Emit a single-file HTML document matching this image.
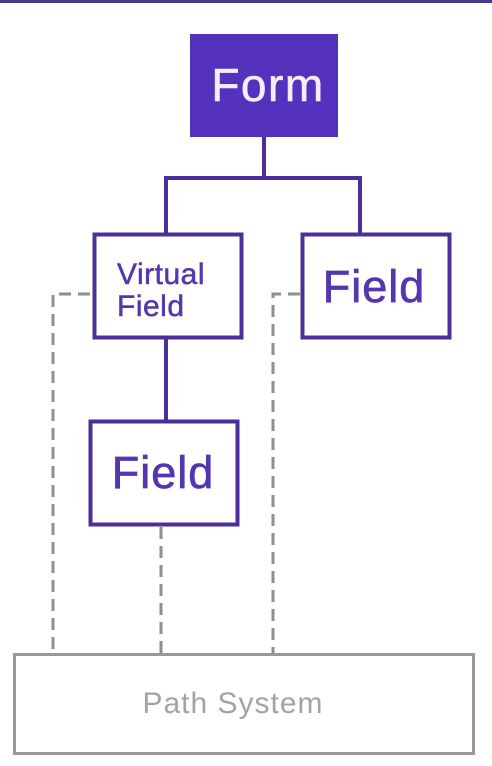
<!DOCTYPE html>
<html><head><meta charset="utf-8"><style>
html,body{margin:0;padding:0;background:#fff;width:492px;height:766px;overflow:hidden}
svg{display:block}
text{font-family:"Liberation Sans",sans-serif}
</style></head><body>
<svg width="492" height="766" viewBox="0 0 492 766" xmlns="http://www.w3.org/2000/svg">
<rect x="0" y="0" width="492" height="3" fill="#4a3a8a"/>
<g stroke="#8f8f8f" stroke-width="3" fill="none" stroke-dasharray="12,7">
<path d="M90 294 H53 V655"/>
<path d="M300 294 H273 V655"/>
<path d="M161 527 V655"/>
</g>
<g stroke="#4b2e99" stroke-width="4" fill="none">
<path d="M264 137 V178"/>
<path d="M166 233 V178 H360 V233"/>
<path d="M166 338 V421"/>
</g>
<rect x="190" y="34" width="148" height="103" fill="#5532bd"/>
<text x="268" y="101" text-anchor="middle" font-size="46" letter-spacing="1.5" fill="#f4eefc" stroke="#f4eefc" stroke-width="0.6">Form</text>
<rect x="94.5" y="234.5" width="147" height="103" fill="#fff" stroke="#4b2e99" stroke-width="4"/>
<text x="117" y="284" font-size="30" letter-spacing="0.5" fill="#5536b0" stroke="#5536b0" stroke-width="0.5">Virtual</text>
<text x="117" y="316" font-size="30" letter-spacing="0.5" fill="#5536b0" stroke="#5536b0" stroke-width="0.5">Field</text>
<rect x="302.5" y="234.5" width="147" height="103" fill="#fff" stroke="#4b2e99" stroke-width="4"/>
<text x="374" y="302" text-anchor="middle" font-size="45" letter-spacing="1" fill="#5536b0" stroke="#5536b0" stroke-width="0.7">Field</text>
<rect x="90.5" y="421.5" width="147" height="103" fill="#fff" stroke="#4b2e99" stroke-width="4"/>
<text x="163" y="488" text-anchor="middle" font-size="45" letter-spacing="1" fill="#5536b0" stroke="#5536b0" stroke-width="0.7">Field</text>
<rect x="14.5" y="654.5" width="459" height="99" fill="#fff" stroke="#999" stroke-width="3"/>
<text x="233" y="713" text-anchor="middle" font-size="30" letter-spacing="1" fill="#a3a3a3">Path System</text>
</svg>
</body></html>
